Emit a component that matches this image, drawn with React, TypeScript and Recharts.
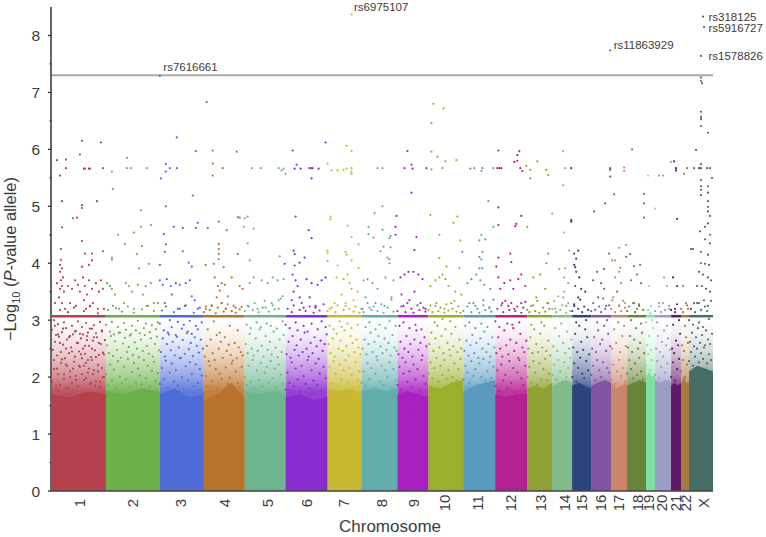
import React from "react";
import { ComposedChart, Area, Line, Scatter, XAxis, YAxis, ReferenceLine, LabelList } from "recharts";

const chromosomes = ["1","2","3","4","5","6","7","8","9","10","11","12","13","14","15","16","17","18","19","20","21","22","X"];
const starts = [52,106,160,204,245,286,328,362,398,429,464,496,528,553,573,592,612,628,647,656,672,682,690];
const ends = [105,159,203,244,285,327,361,397,428,463,495,527,552,572,591,611,627,646,655,671,681,689,713];
const colors = ["#b5414f","#6cb04a","#4f6bd8","#b9722a","#6cb58e","#8a2bd0","#c8b832","#62adac","#a820c0","#98b02c","#5a9abf","#b52090","#8ea234","#82bb8a","#2b4480","#8054a0","#c9856a","#66853a","#7fe0a0","#9a9cc4","#5e1a66","#a8783c","#476e66"];
const labelCentres = [80,133,181,225,268,307,344,383,415,446,479,512,542,566,583,602,620,639,650,663,677,687,705];
const solidTops = [
  [1.7,1.65,1.75,1.7],[1.75,1.7,1.8,1.75],[1.7,1.8,1.65,1.7],[1.6,1.7,1.9,1.65],[1.75,1.7,1.75,1.7],[1.65,1.7,1.6,1.65],
  [1.8,1.75,1.8,1.7],[1.75,1.8,1.75,1.8],[1.7,1.75,1.7,1.65],[1.85,1.8,1.9,1.95],[1.75,1.85,1.9,1.95],[1.7,1.65,1.7,1.7],
  [1.8,1.85,1.8,1.9],[1.85,1.9,1.95,1.9],[1.85,1.9,1.85,1.8],[1.85,1.9,1.95,1.9],[1.9,1.8,1.85,1.9],[1.85,1.9,1.95,1.9],
  [2.0,2.1,2.0,2.05],[1.95,1.9,1.95,1.9],[1.85,1.9,1.85,1.9],[1.85,2.0,1.9,1.9],[2.1,2.2,2.15,2.1],
];
const bandValue = 3.07;
const significance = 7.3;

const chr01 = [57,5.81,66,5.82,60,5.54,66,5.67,82,6.15,80,5.91,101,6.12,84,5.66,85,5.66,89,5.66,90,5.66,103,5.67,62,5.09,82,5.02,82,4.97,97,5.09,73,4.79,77,4.8,62,4.63,82,4.39,61,4.25,85,4.17,92,4.17,103,4.21,61,4.06,92,4.05,60,3.97,89,3.97,82,3.94,62,3.91,
60,3.85,61,3.7,62,3.6,63,3.75,60,3.55,64,3.5,59,3.4,62,3.3,65,3.2,57,3.65,68,3.6,72,3.55,75,3.7,78,3.62,80,3.5,83,3.75,85,3.6,87,3.45,89,3.7,92,3.55,93,3.3,90,3.25,86,3.2,84,3.35,96,3.65,99,3.5,101,3.7,103,3.55,55,3.3,70,3.3,76,3.25,98,3.2,
55,2.9,58,2.75,60,2.6,63,2.85,66,2.5,69,2.7,72,2.45,75,2.8,78,2.6,81,2.4,83,2.75,85,2.55,87,2.65,88,2.3,90,2.85,92,2.5,94,2.7,96,2.35,99,2.6,102,2.8,104,2.4,54,2.3,57,2.15,61,2.25,64,2.05,67,2.2,70,2.0,73,2.15,76,1.95,79,2.2,82,2.05,84,2.2,86,1.98,89,2.15,91,1.9,93,2.05,95,1.85,98,2.1,100,1.92,103,2.0,56,1.85,59,1.75,65,1.8,69,1.7];
const chr02 = [112,5.61,113,5.3,127,5.85,127,5.67,131,5.67,147,5.67,141,4.93,141,4.64,151,4.67,118,4.5,134,4.54,125,4.34,142,4.3,137,4.16,112,4.1,112,4.06,149,3.99,139,3.91,
107,3.65,110,3.6,112,3.55,115,3.45,126,3.65,129,3.6,132,3.5,138,3.62,146,3.6,151,3.65,158,3.3,113,3.25,119,3.2,124,3.3,134,3.2,143,3.45,147,3.25,154,3.3,
139,1.5,141,1.42,133,1.6,118,1.62];
const chr03 = [160,7.29,177,6.21,196,5.97,166,5.74,166,5.61,170,5.67,177,5.67,161,5.49,193,5.19,166,5,198,4.71,196,4.62,174,4.64,183,4.62,164,4.51,166,4.33,165,4.2,183,4.21,189,4.01,192,3.94,160,3.97,
160,3.7,163,3.62,167,3.72,171,3.6,176,3.65,180,3.62,186,3.65,190,3.7,195,3.35,198,3.2,165,3.3,172,3.45,178,3.2,192,3.42,185,3.25,170,1.43];
const chr04 = [207,6.83,213,5.98,237,5.96,213,5.75,213,5.54,223,5.67,238,4.81,240,4.8,208,4.62,219,4.73,227,4.58,219,4.34,219,4.25,219,4.16,219,4.07,238,4.16,206,3.97,214,3.99,224,3.93,
215,3.75,218,3.6,220,3.52,222,3.65,225,3.62,232,3.75,240,3.6,243,3.55,217,3.4,222,3.3,228,3.42,206,3.2,212,3.25,226,3.2,236,3.22];
const chr05 = [252,5.67,261,5.67,279,5.67,282,5.63,284,5.66,245,4.79,248,4.82,244,4.64,254,4.61,248,4.35,250,4.05,280,4.12,286,5.57,
250,3.65,254,3.75,262,3.7,268,3.65,273,3.75,278,3.7,284,3.72,248,3.25,258,3.2,266,3.22,272,3.3,279,3.35,283,3.42];
const chr06 = [293,5.98,326,6.12,297,5.73,295,5.66,301,5.66,310,5.67,312,5.67,313,5.67,319,5.66,312,5.49,296,4.82,309,4.58,312,4.44,294,4.22,295,4.16,305,4.1,300,4.01,285,3.99,295,3.96,
293,3.8,296,3.7,298,3.6,294,3.5,292,3.35,300,3.4,307,3.72,312,3.65,318,3.62,322,3.7,326,3.75,310,3.4,316,3.25,304,3.22];
const chr07 = [352,8.37,347,6.06,352,5.97,328,5.75,332,5.63,338,5.63,344,5.64,347,5.66,352,5.67,352,5.61,352,5.57,331,4.82,331,4.77,348,4.66,352,4.46,359,4.33,328,4.22,328,4.18,346,4.2,347,4.15,352,4.05,328,4.04,338,3.96,359,3.92,
337,3.75,344,3.72,348,3.8,350,3.65,352,3.55,342,3.45,335,3.3,354,3.35,358,3.5,330,3.2,346,3.25];
const chr08 = [378,5.67,375,4.88,369,4.64,369,4.51,374,4.45,383,4.59,383,5,383,5.67,390,4.44,391,4.48,384,4.29,391,4.28,381,4.21,388,4.1,390,4.07,390,4,
364,3.7,368,3.72,373,3.65,378,3.55,386,3.75,394,3.7,366,3.4,370,3.22,363,3.2,376,3.3,385,3.25,392,3.4];
const chr09 = [408,5.97,405,5.67,412,5.73,413,5.66,427,5.67,412,5.24,397,4.83,396,4.64,417,4.46,396,4.5,415,4.23,
401,3.75,405,3.8,409,3.85,414,3.85,419,3.8,423,3.72,402,3.45,404,3.25,410,3.35,415,3.5,421,3.3,426,3.2,414,1.35];
const chr10 = [434,6.8,444,6.72,432,6.46,432,5.96,438,5.87,446,5.79,457,5.81,432,5.65,443,5.67,431,4.85,458,4.82,454,4.71,440,4.5,461,4.4,440,4.09,447,3.94,460,3.92,
431,3.6,436,3.7,440,3.75,443,3.8,446,3.72,449,3.6,456,3.5,462,3.45,436,3.25,445,3.2,452,3.3];
const chr11 = [471,5.66,475,5.67,483,5.67,482,5.62,494,5.67,489,5.09,480,4.4,482,4.5,486,4.42,463,4.2,483,4.2,480,4.11,482,4.07,480,3.91,483,3.91,494,4.64,
468,3.65,472,3.72,477,3.8,481,3.7,485,3.62,491,3.55,470,3.3,476,3.25,484,3.35,490,3.22];
const chr12 = [499,5.98,520,5.97,518,5.9,515,5.78,518,5.8,498,5.67,500,5.67,502,5.67,521,5.67,523,5.62,499,4.98,522,4.83,499,4.67,517,4.69,516,4.65,511,4.17,499,4.1,512,4.02,497,3.94,
499,3.75,501,3.55,505,3.65,511,3.7,514,3.55,519,3.72,522,3.8,526,3.6,503,3.3,509,3.25,515,3.2,522,3.3,515,1.35,516,1.3];
const chr13 = [538,5.79,531,5.64,527,5.71,531,5.49,547,5.64,549,5.55,528,4.64,549,4.17,547,4,
534,3.75,541,3.8,546,3.55,537,3.4,532,3.25,549,3.3];
const chr14 = [564,5.97,566,5.67,564,5.37,553,4.87,565,4.54,570,4.22,566,3.91,560,3.9,
565,3.75,569,3.65,564,3.4,567,3.25,556,3.2];
const chr15 = [572,5.67,572,4.76,572,4.73,575,4.17,579,4.22,577,4.08,575,3.97,576,3.93,
577,3.85,580,3.75,576,3.6,582,3.55,579,3.4,586,3.5,575,3.25];
const chr16 = [611,5.67,611,5.64,611,5.52,611,7.74,615,5.21,606,5.05,595,4.91,610,4.17,605,3.9,
594,3.7,598,3.85,602,3.65,605,3.55,599,3.4,607,3.25];
const chr17 = [625,5.68,625,5.62,620,4.27,627,4.32,613,4.05,616,4.05,621,3.92,
616,3.75,620,3.85,622,3.65,618,3.5,613,3.35,620,3.25,626,3.3];
const chr18 = [633,6,645,5.22,645,5.05,645,4.8,631,4.16,627,4.11,635,3.95,641,3.97,
632,3.7,638,3.8,642,3.65,635,3.3,640,3.25];
const chr19 = [649,5.54,656,4.96,650,3.6,652,3.25];
const chr20 = [660,5.54,664,5.54,672,5.78,665,3.75,668,3.6,660,3.3,670,3.25];
const chr21 = [675,5.79,677,5.67,677,5.63,678,4.78,674,3.75,678,3.6,676,3.2];
const chr22 = [685,5.57,688,5.67,684,3.6,687,3.3,689,3.2];
const chrX = [704,8.33,705,8.15,702,7.64,702,7.26,702,7.2,703,7.16,702,6.66,702,6.57,702,6.53,702,6.41,709,6.29,697,5.99,702,5.74,695,5.67,700,5.67,701,5.67,702,5.67,708,5.67,711,5.67,713,5.5,702,5.46,709,5.35,702,5.35,702,5.29,702,5.2,709,5.24,709,5.09,709,4.99,709,4.91,711,4.83,709,4.7,706,4.64,701,4.56,711,4.5,706,4.42,711,4.35,702,4.2,709,4.15,702,4,706,3.99,710,3.97,692,4.25,694,4.25,
700,3.85,704,3.8,709,3.75,712,3.7,698,3.6,703,3.6,707,3.55,711,3.5,695,3.3,700,3.3,705,3.35,709,3.25,692,3.2];
const pointLists = [chr01,chr02,chr03,chr04,chr05,chr06,chr07,chr08,chr09,chr10,chr11,chr12,chr13,chr14,chr15,chr16,chr17,chr18,chr19,chr20,chr21,chr22,chrX];

// estimated cloud of dots below the 3.07 band, one value per two-pixel column, in rows
const cloud01 = [1.92,2.14,1.78,2.05,1.86,2.31,1.97,2.22,1.81,2.1,1.9,2.27,2.02,1.84,2.18,2.33,1.95,2.25,2.08,1.88,2.3,2.12,1.93,2.21,1.83,2.16,2.0,
2.48,2.62,2.38,2.71,2.44,2.57,2.33,2.66,2.42,2.52,2.75,2.36,2.6,2.45,2.68,2.5,2.41,2.72,2.55,2.35,2.64,2.47,2.7,2.39,2.58,2.43,2.65,
2.83,3.0,2.74,2.93,3.18,2.79,2.96,2.86,3.14,2.72,2.9,3.22,2.81,2.98,2.76,2.88,3.16,2.95,2.78,3.24,2.85,2.91,2.77,3.12,2.97,2.82,3.2];
const cloud02 = [2.05,1.85,2.22,1.94,2.13,1.79,2.28,2.01,1.89,2.18,1.96,2.32,1.83,2.09,2.25,1.91,2.15,2.03,1.87,2.3,1.98,2.2,1.82,2.11,2.27,1.93,2.07,
2.56,2.42,2.72,2.37,2.63,2.48,2.78,2.34,2.59,2.69,2.44,2.53,2.75,2.39,2.61,2.5,2.35,2.66,2.46,2.74,2.55,2.41,2.68,2.36,2.58,2.71,2.47,
2.92,3.18,2.8,2.97,2.75,3.21,2.88,2.78,3.15,2.95,2.83,3.24,2.73,2.9,3.13,2.82,2.99,2.77,3.19,2.86,2.94,3.25,2.79,2.91,3.16,2.84,2.96];
const cloud03 = [1.88,2.16,1.97,2.29,1.81,2.08,2.24,1.92,2.12,1.85,2.33,2.0,1.79,2.19,1.94,2.26,2.05,1.84,2.22,1.9,2.14,2.03,
2.44,2.68,2.36,2.58,2.75,2.47,2.62,2.38,2.71,2.52,2.34,2.65,2.41,2.77,2.49,2.6,2.37,2.7,2.55,2.43,2.66,2.5,
2.94,3.17,2.82,3.24,2.78,3.0,2.88,3.14,2.74,2.97,3.2,2.85,2.92,3.26,2.8,2.99,2.76,3.13,2.9,2.84,3.22,2.96];
const cloud04 = [1.72,2.02,1.84,2.2,1.93,1.68,2.14,1.8,2.06,1.97,1.74,2.17,1.88,1.99,2.24,1.78,2.1,1.9,1.83,2.18,
2.36,2.55,2.28,2.66,2.42,2.3,2.74,2.5,2.62,2.34,2.7,2.46,2.57,2.39,2.29,2.6,2.33,2.52,2.44,2.38,
3.14,3.24,2.84,3.18,3.26,2.98,3.12,3.22,2.78,3.3,3.15,3.2,3.28,2.9,3.16,3.25,3.13,2.82,3.19,3.23];
const cloud05 = [2.0,1.86,2.2,1.92,2.3,1.8,2.12,1.95,2.25,1.84,2.08,2.18,1.9,2.28,1.98,2.15,1.82,2.22,2.04,1.88,
2.58,2.42,2.76,2.5,2.38,2.68,2.46,2.84,2.55,2.36,2.72,2.48,2.62,2.4,2.8,2.52,2.35,2.66,2.44,2.74,
3.16,2.92,3.24,2.86,3.18,3.3,2.96,3.14,2.88,3.22,3.34,2.94,3.15,2.9,3.26,3.19,2.85,3.2,3.38,2.98];
const cloud06 = [1.78,2.08,1.9,2.26,1.84,2.15,1.96,1.74,2.2,2.02,1.88,2.3,1.8,2.12,1.94,2.24,1.86,2.06,1.76,2.18,1.98,
2.4,2.62,2.34,2.72,2.48,2.56,2.38,2.66,2.44,2.78,2.5,2.36,2.6,2.42,2.7,2.54,2.32,2.64,2.46,2.58,2.75,
2.92,3.2,2.86,3.14,3.26,2.96,2.82,3.18,3.3,2.9,3.16,2.8,3.24,2.94,3.13,3.22,2.84,3.17,2.98,3.28,2.88];
const cloud07 = [2.0,2.18,1.88,2.28,2.06,1.84,2.22,1.96,2.12,2.3,1.9,2.16,2.04,1.82,2.26,1.94,2.1,
2.58,2.42,2.68,2.36,2.76,2.5,2.64,2.46,2.82,2.55,2.38,2.72,2.6,2.44,2.66,2.52,2.4,
3.16,2.9,3.22,2.84,3.14,3.26,2.98,2.88,3.18,3.3,2.94,3.2,2.86,3.15,3.24,2.92,3.13];
const cloud08 = [1.9,2.1,1.84,2.24,1.96,2.16,1.8,2.06,2.3,1.92,2.2,1.86,2.12,2.0,2.26,1.82,2.14,1.94,
2.5,2.66,2.4,2.58,2.78,2.44,2.62,2.36,2.72,2.54,2.42,2.68,2.48,2.6,2.38,2.74,2.52,2.46,
3.2,3.14,2.88,3.3,2.96,3.18,3.24,2.84,3.16,2.92,3.28,3.13,2.86,3.22,2.98,3.36,3.15,2.9];
const cloud09 = [1.86,2.18,1.78,2.06,2.26,1.92,2.1,1.82,2.22,1.96,2.14,1.76,2.3,2.02,1.88,
2.4,2.62,2.34,2.5,2.72,2.44,2.58,2.36,2.66,2.82,2.48,2.6,2.38,2.7,2.54,
3.16,2.9,3.24,2.96,3.14,3.3,2.86,3.2,3.13,2.92,3.26,3.18,2.84,3.22,3.15];
const cloud10 = [2.06,2.26,1.98,2.16,2.34,1.92,2.2,2.04,2.3,1.96,2.12,2.38,2.0,2.24,1.94,2.14,2.32,
2.58,2.78,2.46,2.68,2.9,2.52,2.72,2.42,2.84,2.6,2.48,2.76,2.54,2.88,2.44,2.66,2.5,
3.18,3.26,3.14,2.96,3.3,3.16,3.22,3.02,3.13,3.28,3.17,2.98,3.2,3.34,3.15,3.24,3.13];
const cloud11 = [1.96,2.2,2.08,1.9,2.28,2.02,2.14,1.86,2.24,2.0,2.32,1.94,2.1,2.26,1.98,2.18,
2.46,2.64,2.38,2.56,2.74,2.42,2.6,2.34,2.68,2.5,2.8,2.44,2.58,2.36,2.7,2.52,
3.16,2.9,3.24,2.96,3.14,3.3,2.86,3.2,3.13,2.94,3.26,3.18,2.88,3.22,3.15,3.36];
const cloud12 = [1.84,2.12,1.76,2.22,1.94,2.04,1.8,2.28,1.9,2.16,1.74,2.08,2.3,1.98,1.86,2.2,
2.42,2.7,2.5,2.36,2.82,2.56,2.4,2.66,2.92,2.46,2.6,2.34,2.76,2.52,2.44,2.64,
2.98,3.2,2.88,3.26,3.14,3.34,2.94,3.18,3.3,2.86,3.16,3.24,2.96,3.13,3.22,3.32];
const cloud13 = [2.0,2.18,1.9,2.28,2.08,1.86,2.24,1.96,2.14,2.32,1.94,2.06,
2.5,2.7,2.42,2.84,2.58,2.44,2.76,2.52,2.9,2.46,2.64,2.38,
3.18,3.14,2.92,3.26,3.16,3.34,3.13,2.96,3.22,3.15,3.3,3.2];
const cloud14 = [2.04,2.22,1.96,2.3,2.1,1.92,2.26,2.0,2.16,2.34,
2.54,2.86,2.46,2.72,2.94,2.6,2.42,2.8,2.5,2.66,
3.2,3.34,3.14,3.42,3.18,3.26,3.5,3.13,3.3,3.16];
const cloud15 = [2.0,2.24,1.92,2.16,2.34,2.06,1.98,2.28,2.12,
2.52,2.76,2.44,2.9,2.62,2.48,2.84,2.7,2.4,
3.16,3.28,2.96,3.2,3.36,3.14,3.24,3.0,3.18];
const cloud16 = [2.04,2.2,1.94,2.3,2.12,2.0,2.26,1.92,2.16,2.08,
2.5,2.7,2.44,2.82,2.58,2.66,2.9,2.46,2.76,2.54,
3.16,3.3,3.18,2.96,3.24,3.14,3.38,3.2,3.0,3.26];
const cloud17 = [1.96,2.22,1.88,2.1,2.3,2.02,2.16,1.92,
2.5,2.84,2.6,2.96,2.44,2.72,2.9,2.54,
3.2,3.4,3.14,3.5,3.26,3.16,3.34,3.22];
const cloud18 = [2.06,2.3,2.14,1.98,2.24,2.04,2.34,2.1,1.96,
2.52,2.72,2.44,2.66,2.86,2.5,2.6,2.78,2.42,
3.16,3.24,3.0,3.3,3.14,3.2,3.28,2.94,3.18];
const cloud19 = [2.2,2.4,2.12,2.3,2.56,2.72,2.48,2.86,2.96,3.18,3.12,3.0];
const cloud20 = [2.04,2.28,1.98,2.18,2.36,2.08,2.24,1.94,2.5,2.72,2.44,2.62,2.82,2.56,2.68,2.48,3.16,2.96,3.24,3.14,3.3,3.18,2.9,3.2];
const cloud21 = [2.0,2.26,1.94,2.14,2.32,2.5,2.42,2.64,2.56,2.76,3.18,2.92,3.14,3.28,3.0];
const cloud22 = [2.1,2.3,2.0,2.22,2.56,2.46,2.7,2.6,3.2,3.14,2.9,3.26];
const cloudX = [2.28,2.44,2.2,2.36,2.5,2.26,2.42,2.32,2.56,2.24,2.4,2.3,
2.62,2.78,2.54,2.7,2.86,2.6,2.74,2.52,2.82,2.66,2.58,2.76,
3.0,3.2,2.92,3.14,3.3,2.96,3.18,2.88,3.24,3.16,3.02,3.34];
const cloudLists = [cloud01,cloud02,cloud03,cloud04,cloud05,cloud06,cloud07,cloud08,cloud09,cloud10,cloud11,cloud12,cloud13,cloud14,cloud15,cloud16,cloud17,cloud18,cloud19,cloud20,cloud21,cloud22,cloudX];

const hitNames = ["rs7616661","rs6975107","rs318125","rs5916727","rs11863929","rs1578826"];
const hitPositions = [160,352,704,705,611,702];
const hitValues = [7.29,8.37,8.33,8.15,7.74,7.64];
const yTicks = [0,0.5,1,1.5,2,2.5,3,3.5,4,4.5,5,5.5,6,6.5,7,7.5,8];

const pairs = (list: number[]) => {
  const out: { pos: number; v: number }[] = [];
  for (let i = 0; i < list.length; i += 2) out.push({ pos: list[i], v: list[i + 1] });
  return out;
};
const cloudPoints = (i: number) => {
  const cols = Math.max(1, Math.floor((ends[i] - starts[i] + 1) / 2));
  return cloudLists[i].map((v, k) => ({
    pos: starts[i] + 2 * (k % cols) + (Math.floor(k / cols) % 2),
    v,
  }));
};
const hits = hitNames.map((name, i) => ({ name, pos: hitPositions[i], v: hitValues[i] }));

const TEXT = "#3c3c3c";
const FONT = "'Liberation Sans', Arial, sans-serif";
const hitOffset: Record<string, [number, number]> = {
  rs7616661: [8, 0], rs6975107: [7, 1], rs318125: [10, 9], rs5916727: [9, 10], rs11863929: [8, 3], rs1578826: [12, 9],
};

const Dot = (p: any) => <circle cx={p.cx} cy={p.cy} r={1.1} fill={p.fill} />;
const YTick = (p: any) => {
  const major = Number.isInteger(p.payload.value);
  return (
    <g>
      <line x1={p.x + (major ? 5 : 6.5)} x2={p.x + 8} y1={p.y} y2={p.y} stroke="#333" strokeWidth={1.3} />
      {major && <text x={p.x - 3} y={p.y + 5.5} textAnchor="end" fontSize={15.5} fontFamily={FONT} fill={TEXT}>{p.payload.value}</text>}
    </g>
  );
};
const XTick = (p: any) => (
  <text transform={`translate(${p.x + 5},${p.y + 4}) rotate(-90)`} textAnchor="middle" fontSize={15} fontFamily={FONT} fill={TEXT}>
    {chromosomes[p.index]}
  </text>
);
const YTitle = () => (
  <text transform="translate(16,259) rotate(-90)" textAnchor="middle" fontSize={16.5} fontFamily={FONT} fill={TEXT}>
    −Log<tspan fontSize={11} dy={4}>10</tspan><tspan dy={-4}> (</tspan><tspan fontStyle="italic">P</tspan>-value allele)
  </text>
);
const hitLabel = (p: any) => {
  const [dx, dy] = hitOffset[p.value];
  return <text x={p.x + dx} y={p.y + dy} fontSize={11.5} fontFamily={FONT} fill={TEXT}>{p.value}</text>;
};

export default function App() {
  return (
    <div style={{ position: "absolute", left: 0, top: 0 }}>
      <ComposedChart width={766} height={537} margin={{ top: 7, right: 53, bottom: 0, left: 0 }}>
        <defs>
          {colors.map((c, i) => (
            <linearGradient key={i} id={`fade${i}`} x1="0" y1="0" x2="0" y2="1">
              <stop offset="0" stopColor={c} stopOpacity={0} />
              <stop offset="0.1" stopColor={c} stopOpacity={0.1} />
              <stop offset="0.2" stopColor={c} stopOpacity={0.28} />
              <stop offset="0.33" stopColor={c} stopOpacity={0.6} />
              <stop offset="0.42" stopColor={c} stopOpacity={0.9} />
            </linearGradient>
          ))}
        </defs>
        <XAxis dataKey="pos" type="number" domain={[51, 713]} ticks={labelCentres} interval={0} tick={<XTick />} tickLine={false} axisLine={{ stroke: "#444", strokeWidth: 1.5 }} height={46} allowDuplicatedCategory={false} />
        <YAxis dataKey="v" type="number" domain={[0, 8.5]} ticks={yTicks} interval={0} tick={<YTick />} tickLine={false} axisLine={{ stroke: "#333", strokeWidth: 1.5 }} width={51} label={<YTitle />} />
        {colors.map((c, i) => (
          <Area key={`h${i}`} data={[{ pos: starts[i], v: 3 }, { pos: ends[i] + 1, v: 3 }]} dataKey="v" stroke="none" fill={`url(#fade${i})`} fillOpacity={1} isAnimationActive={false} dot={false} activeDot={false} />
        ))}
        {colors.map((c, i) => (
          <Area key={`s${i}`} data={solidTops[i].map((v, k) => ({ pos: starts[i] + (k * (ends[i] + 1 - starts[i])) / 3, v }))} dataKey="v" stroke="none" fill={c} fillOpacity={1} isAnimationActive={false} dot={false} activeDot={false} />
        ))}
        <ReferenceLine y={significance} segment={[{ x: 51, y: significance }, { x: 710, y: significance }]} stroke="#a8a8a8" strokeWidth={2} />
        {colors.map((c, i) => (
          <Line key={`b${i}`} data={[{ pos: starts[i], v: bandValue }, { pos: ends[i] + 1, v: bandValue }]} dataKey="v" stroke={c} strokeWidth={2.5} dot={false} activeDot={false} isAnimationActive={false} />
        ))}
        {colors.map((c, i) => (
          <Scatter key={`c${i}`} data={cloudPoints(i)} dataKey="v" fill={c} shape={Dot} isAnimationActive={false} />
        ))}
        {colors.map((c, i) => (
          <Scatter key={`p${i}`} data={pairs(pointLists[i])} dataKey="v" fill={c} shape={Dot} isAnimationActive={false} />
        ))}
        <Scatter data={hits} dataKey="v" fill="none" shape={() => <g />} isAnimationActive={false}>
          <LabelList dataKey="name" content={hitLabel} />
        </Scatter>
      </ComposedChart>
      <div style={{ position: "absolute", left: 339, top: 518, fontFamily: FONT, fontSize: 17, color: TEXT, lineHeight: "18px" }}>Chromosome</div>
    </div>
  );
}
